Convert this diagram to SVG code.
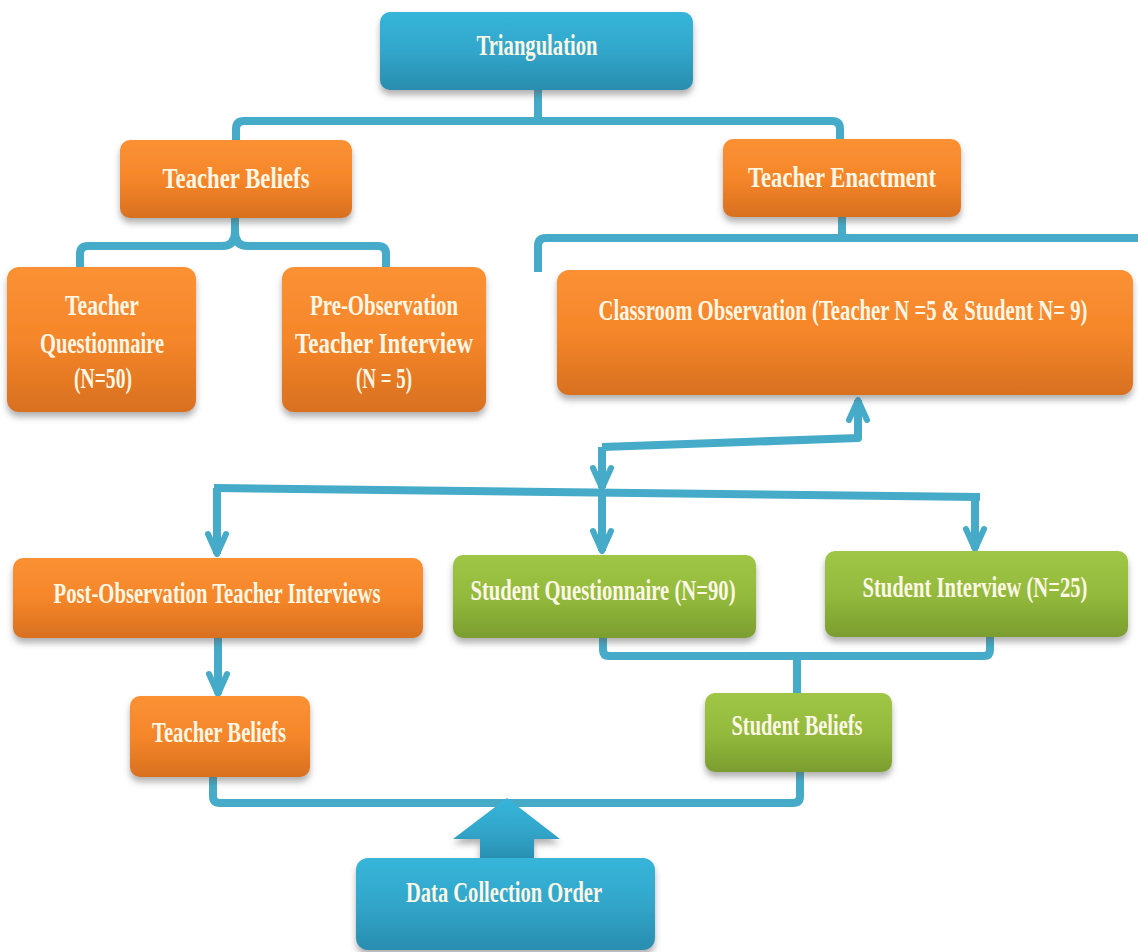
<svg xmlns="http://www.w3.org/2000/svg" width="1138" height="952" viewBox="0 0 1138 952">
<defs>
<linearGradient id="gOr" x1="0" y1="0" x2="0" y2="1">
<stop offset="0" stop-color="#fb9134"/><stop offset="0.5" stop-color="#f5862a"/><stop offset="1" stop-color="#d8701f"/>
</linearGradient>
<linearGradient id="gGr" x1="0" y1="0" x2="0" y2="1">
<stop offset="0" stop-color="#a0c646"/><stop offset="0.5" stop-color="#93ba3c"/><stop offset="1" stop-color="#7b9d2f"/>
</linearGradient>
<linearGradient id="gBl" x1="0" y1="0" x2="0" y2="1">
<stop offset="0" stop-color="#37b5da"/><stop offset="0.5" stop-color="#31a6ca"/><stop offset="1" stop-color="#2a8daf"/>
</linearGradient>
<filter id="sh" x="-10%" y="-10%" width="120%" height="140%">
<feDropShadow dx="0" dy="5" stdDeviation="3" flood-color="#555" flood-opacity="0.45"/>
</filter>
<marker id="ah" markerUnits="userSpaceOnUse" markerWidth="40" markerHeight="40" refX="0" refY="0" viewBox="-30 -20 40 40" orient="auto" overflow="visible">
<path d="M-20,-9 L0,0 L-20,9" fill="none" stroke="#46abc8" stroke-width="6" stroke-linecap="round" stroke-linejoin="round"/>
</marker>
<style>
.c{fill:none;stroke:#46abc8;stroke-width:8;stroke-linejoin:round;stroke-linecap:butt}
.or{fill:url(#gOr);filter:url(#sh)}
.gr{fill:url(#gGr);filter:url(#sh)}
.bl{fill:url(#gBl);filter:url(#sh)}
text{font-family:"Liberation Serif","Times New Roman",serif;font-weight:bold;font-size:22px;fill:#fdf7e6;text-anchor:middle}
</style>
</defs>

<g id="connectors">
<path class="c" d="M538,90 V121"/>
<path class="c" d="M236,141 V129 Q236,121 244,121 H832 Q840,121 840,129 V141"/>
<path class="c" d="M80,268 V254 Q80,246 88,246 H222 Q235,246 235,232 V218"/>
<path class="c" d="M386,268 V254 Q386,246 378,246 H248 Q235,246 235,232"/>
<path class="c" d="M842,217 V238"/>
<path class="c" d="M538,272 V246 Q538,238 546,238 H1140"/>
<path class="c" d="M602,447 L858,438 V400" marker-end="url(#ah)"/>
<path class="c" d="M602,447 V488" marker-end="url(#ah)"/>
<path class="c" d="M214,488 L980,497"/>
<path class="c" d="M217,488 V554" marker-end="url(#ah)"/>
<path class="c" d="M602,492 V551" marker-end="url(#ah)"/>
<path class="c" d="M975,497 V549" marker-end="url(#ah)"/>
<path class="c" d="M218,638 V694" marker-end="url(#ah)"/>
<path class="c" d="M603,638 V650 Q603,656 609,656 H984 Q990,656 990,650 V637"/>
<path class="c" d="M797,656 V693"/>
<path class="c" d="M213,777 V796 Q213,803 220,803 H793 Q800,803 800,796 V772"/>
<polygon class="bl" points="507,798 560,839 534,839 534,862 480,862 480,839 453,839"/>
</g>

<g id="n-triangulation"><rect class="bl" x="380" y="12" width="313" height="78" rx="10"/><text transform="translate(537,55) scale(1,1.3)" textLength="121" lengthAdjust="spacingAndGlyphs">Triangulation</text></g>
<g id="n-teacher-beliefs-1"><rect class="or" x="120" y="140" width="232" height="78" rx="10"/><text transform="translate(236,188) scale(1,1.3)" textLength="147" lengthAdjust="spacingAndGlyphs">Teacher Beliefs</text></g>
<g id="n-teacher-enactment"><rect class="or" x="723" y="139" width="238" height="78" rx="10"/><text transform="translate(842,187) scale(1,1.3)" textLength="188" lengthAdjust="spacingAndGlyphs">Teacher Enactment</text></g>
<g id="n-teacher-questionnaire"><rect class="or" x="7" y="267" width="189" height="145" rx="12"/>
<text transform="translate(102,315) scale(1,1.3)" textLength="74" lengthAdjust="spacingAndGlyphs">Teacher</text>
<text transform="translate(102,353) scale(1,1.3)" textLength="124" lengthAdjust="spacingAndGlyphs">Questionnaire</text>
<text transform="translate(103,388) scale(1,1.3)" textLength="58" lengthAdjust="spacingAndGlyphs">(N=50)</text></g>
<g id="n-pre-observation"><rect class="or" x="282" y="267" width="204" height="145" rx="12"/>
<text transform="translate(384,315) scale(1,1.3)" textLength="148" lengthAdjust="spacingAndGlyphs">Pre-Observation</text>
<text transform="translate(384,353) scale(1,1.3)" textLength="178" lengthAdjust="spacingAndGlyphs">Teacher Interview</text>
<text transform="translate(384,388) scale(1,1.3)" textLength="56" lengthAdjust="spacingAndGlyphs">(N = 5)</text></g>
<g id="n-classroom-observation"><rect class="or" x="557" y="270" width="576" height="125" rx="12"/>
<text transform="translate(843,320) scale(1,1.3)" textLength="489" lengthAdjust="spacingAndGlyphs">Classroom Observation (Teacher N =5 &amp; Student N= 9)</text></g>
<g id="n-post-observation"><rect class="or" x="13" y="558" width="410" height="80" rx="10"/>
<text transform="translate(217,603) scale(1,1.3)" textLength="327" lengthAdjust="spacingAndGlyphs">Post-Observation Teacher Interviews</text></g>
<g id="n-student-questionnaire"><rect class="gr" x="453" y="555" width="303" height="83" rx="10"/>
<text transform="translate(603,600) scale(1,1.3)" textLength="265" lengthAdjust="spacingAndGlyphs">Student Questionnaire (N=90)</text></g>
<g id="n-student-interview"><rect class="gr" x="825" y="551" width="303" height="86" rx="10"/>
<text transform="translate(975,597) scale(1,1.3)" textLength="225" lengthAdjust="spacingAndGlyphs">Student Interview (N=25)</text></g>
<g id="n-teacher-beliefs-2"><rect class="or" x="130" y="696" width="180" height="81" rx="10"/>
<text transform="translate(219,742) scale(1,1.3)" textLength="134" lengthAdjust="spacingAndGlyphs">Teacher Beliefs</text></g>
<g id="n-student-beliefs"><rect class="gr" x="705" y="693" width="187" height="79" rx="10"/>
<text transform="translate(797,735) scale(1,1.3)" textLength="131" lengthAdjust="spacingAndGlyphs">Student Beliefs</text></g>
<g id="n-data-collection-order"><rect class="bl" x="356" y="858" width="299" height="92" rx="12"/>
<text transform="translate(504,902) scale(1,1.3)" textLength="196" lengthAdjust="spacingAndGlyphs">Data Collection Order</text></g>
</svg>
